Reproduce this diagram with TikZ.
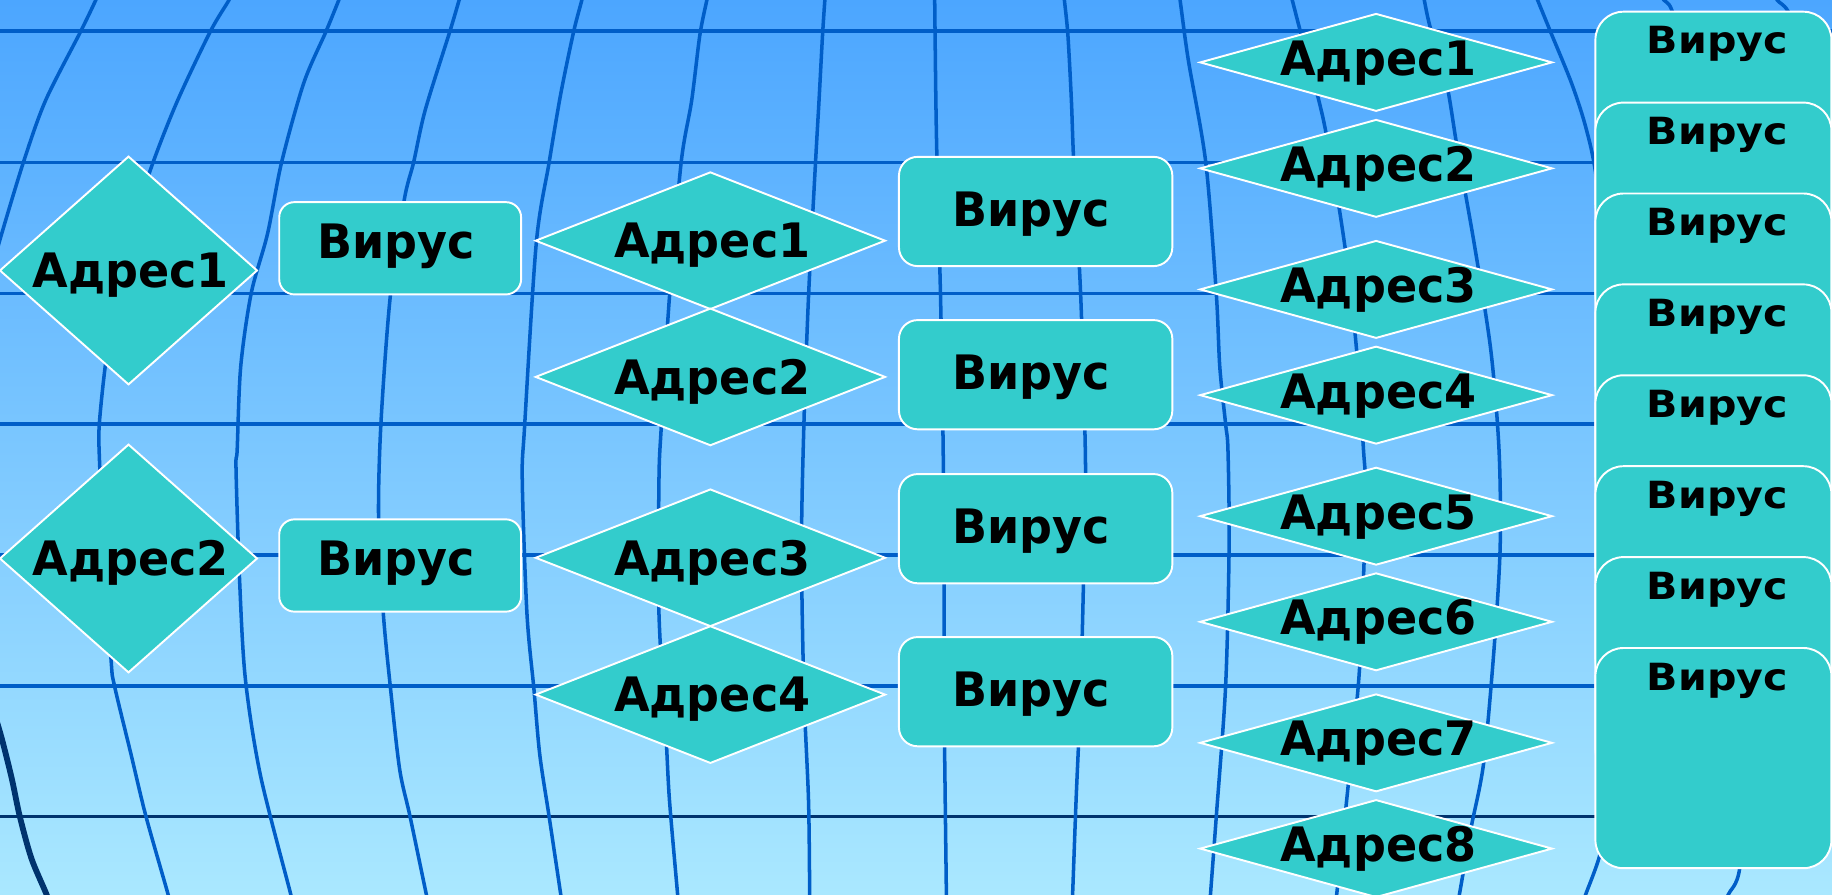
\documentclass[tikz,border=0pt]{standalone}
\usepackage{fontspec}
\setmainfont{DejaVu Sans}
\usetikzlibrary{shapes.geometric}
\definecolor{bgtop}{RGB}{76,166,255}
\definecolor{bgbot}{RGB}{170,232,255}
\definecolor{gridblue}{RGB}{0,94,200}
\definecolor{gridnavy}{RGB}{0,51,110}
\definecolor{tealfill}{RGB}{51,204,204}
\newcommand{\shapetext}[4]{\makebox[0pt]{\kern#1\relax\raisebox{\dimexpr#2-0.3645em\relax}[0pt][0pt]{\scalebox{#3}[1]{#4}}\kern-#1\relax}}
\tikzset{
  gridln/.style={draw=gridblue, line width=2pt},
  gridnv/.style={draw=gridnavy, line width=2pt},
  gridthick/.style={draw=gridnavy, line width=3.3pt},
  shp/.style={draw=white, line width=1.1pt, fill=tealfill, inner sep=0pt, outer sep=0pt, text=black},
  bigfont/.style={font=\fontsize{27}{30}\selectfont\bfseries},
  smallfont/.style={font=\fontsize{21.3}{24}\selectfont\bfseries},
  ldia/.style={shp, bigfont, diamond, minimum width=5.139cm, minimum height=4.555cm},
  lbox/.style={shp, bigfont, rectangle, rounded corners=0.304cm, minimum width=4.836cm, minimum height=1.845cm},
  mdia/.style={shp, bigfont, diamond, minimum width=6.985cm, minimum height=2.733cm},
  mbox/.style={shp, bigfont, rectangle, rounded corners=0.374cm, minimum width=5.466cm, minimum height=2.184cm},
  rdia/.style={shp, bigfont, diamond, minimum width=7.031cm, minimum height=1.939cm},
  rbox/.style={shp, smallfont, rectangle, rounded corners=0.561cm, minimum width=4.719cm, minimum height=4.403cm},
}
\begin{document}
\begin{tikzpicture}[x=0.02336cm, y=-0.02336cm]
\useasboundingbox (0,0) rectangle (1568,766);
\shade[top color=bgtop, bottom color=bgbot] (0,0) rectangle (1568,766);
\begin{scope}
\clip (0,0) rectangle (1568,766);
% horizontal lines
\foreach \yy in {26.5,139,251,363,475,587}{
  \draw[gridln] (-5,\yy) -- (1575,\yy);
}
\draw[gridnv] (-5,699) -- (1575,699);
% dark thick curve bottom-left
\draw[gridthick] plot[smooth] coordinates {(-5,610) (1.5,632) (10,666) (17,699) (27,735) (40,766) (44,780)};
% vertical curved lines
\draw[gridln] plot[smooth] coordinates {(86,-10) (82,0) (69,27) (39,86) (20,139) (0,205) (-5,225)};
\draw[gridln] plot[smooth] coordinates {(200,-10) (196,0) (180,27) (152,86) (131,139) (111,200) (98,260) (90,314) (85,363) (85,390) (88,450) (95,564) (98,587) (112,645) (125,699) (144,766) (147,780)};
\draw[gridln] plot[smooth] coordinates {(294,-10) (290,0) (279,27) (260,71) (241,139) (229,200) (215,251) (206,314) (203,385) (202,401) (205,495) (210,581) (223,664) (249,766) (252,780)};
\draw[gridln] plot[smooth] coordinates {(396,-10) (393,0) (385,27) (364,94) (354,139) (346,171) (334,254) (326,363) (324,444) (328,524) (334,587) (342,658) (351,699) (365,766) (368,780)};
\draw[gridln] plot[smooth] coordinates {(500,-10) (498,0) (491,27) (480,80) (470,139) (459,208) (449,365) (447,411) (451,525) (457,590) (462,646) (470,699) (480,766) (482,780)};
\draw[gridln] plot[smooth] coordinates {(607,-10) (605,0) (599,30) (592,86) (583,139) (573,254) (566,365) (564,411) (564,525) (570,629) (573,685) (580,766) (581,780)};
\draw[gridln] plot[smooth] coordinates {(707,-10) (706,0) (704,30) (701,86) (698,139) (692,254) (688,365) (686,468) (688,590) (692,685) (693,766) (693,780)};
\draw[gridln] plot[smooth] coordinates {(800,-10) (800,0) (801,86) (802,139) (805,254) (807,365) (808,468) (808,590) (809,685) (810,766) (810,780)};
\draw[gridln] plot[smooth] coordinates {(910,-10) (911,0) (914,30) (917,86) (919,139) (925,254) (929,391) (928,468) (925,590) (921,685) (918,766) (917,780)};
\draw[gridln] plot[smooth] coordinates {(1008,-10) (1010,0) (1017,51) (1032,139) (1041,251) (1044,314) (1049,363) (1051,385) (1052,467) (1049,587) (1041,699) (1036,766) (1035,780)};
\draw[gridln] plot[smooth] coordinates {(1103,-10) (1106,0) (1113,27) (1128,83) (1135,114) (1146,177) (1155,240) (1162,310) (1167,385) (1169,420) (1167,495) (1163,581) (1153,681) (1144,766) (1142,780)};
\draw[gridln] plot[smooth] coordinates {(1217,-10) (1219,0) (1224,23) (1238,71) (1247,125) (1262,210) (1276,300) (1283,385) (1284,467) (1279,552) (1270,652) (1259,709) (1249,766) (1246,780)};
\draw[gridln] plot[smooth] coordinates {(1312,-10) (1316,0) (1327,27) (1345,71) (1357,108) (1366,150) (1378,250) (1385,400) (1383,560) (1377,680) (1370,729) (1357,766) (1352,780)};
\draw[gridln] plot[smooth] coordinates {(1420,-10) (1424,0) (1431,9) (1445,60) (1470,250) (1490,500) (1495,650) (1489,743) (1479,766) (1475,780)};
\draw[gridln] plot[smooth] coordinates {(1517,-10) (1521,0) (1530,9) (1545,40) (1560,90) (1580,160)};
\end{scope}
% left column
\node[ldia] (la1) at (110,231.5) {\shapetext{1.3pt}{0pt}{0.97}{Адрес1}};
\node[ldia] (la2) at (110,478) {\shapetext{1.3pt}{0pt}{0.97}{Адрес2}};
\node[lbox] (lv1) at (342.5,212.5) {\shapetext{-2.3pt}{4pt}{0.97}{Вирус}};
\node[lbox] (lv2) at (342.5,484) {\shapetext{-2.3pt}{4pt}{0.97}{Вирус}};
% middle column
\node[mdia] (ma1) at (608,206) {\shapetext{1.1pt}{0pt}{0.97}{Адрес1}};
\node[mdia] (ma2) at (608,322.6) {\shapetext{1.1pt}{0pt}{0.97}{Адрес2}};
\node[mdia] (ma3) at (608,477.4) {\shapetext{1.1pt}{0pt}{0.97}{Адрес3}};
\node[mdia] (ma4) at (608,594.5) {\shapetext{1.1pt}{0pt}{0.97}{Адрес4}};
\node[mbox] (mv1) at (886.4,181) {\shapetext{-2.7pt}{1.5pt}{0.97}{Вирус}};
\node[mbox] (mv2) at (886.4,320.7) {\shapetext{-2.7pt}{1.5pt}{0.97}{Вирус}};
\node[mbox] (mv3) at (886.4,452.5) {\shapetext{-2.7pt}{1.5pt}{0.97}{Вирус}};
\node[mbox] (mv4) at (886.4,592) {\shapetext{-2.7pt}{1.5pt}{0.97}{Вирус}};
% right column diamonds
\foreach \i/\yy in {1/53.4,2/144.1,3/247.7,4/338.2,5/441.8,6/532.2,7/635.8,8/726.3}{
  \node[rdia] (ra\i) at (1177.8,\yy) {\shapetext{1.3pt}{2.4pt}{0.97}{Адрес\i}};
}
% right column stacked boxes
\foreach \i/\tp in {1/10,2/87.8,3/165.6,4/243.4,5/321.2,6/399,7/476.8,8/554.6}{
  \node[rbox] (rv\i) at (1466.5,\tp+94.25) {\shapetext{2.2pt}{46.4pt}{1.1}{Вирус}};
}
\end{tikzpicture}
\end{document}
